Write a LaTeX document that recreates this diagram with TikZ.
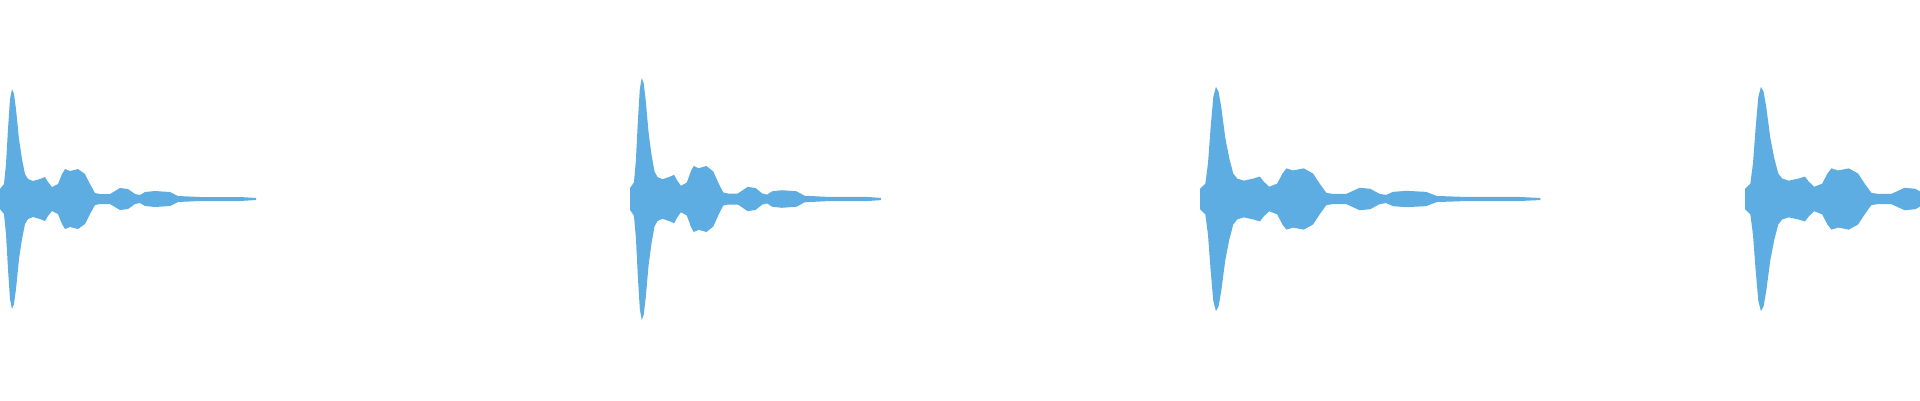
\documentclass[tikz,border=0pt]{standalone}
\definecolor{wave}{HTML}{5DADE2}
\newcommand{\burstenv}{(0,10) (4,15) (6,35) (8,70) (10,100) (12,110) (14,105) (16,90) (19,60) (22,40) (25,25) (28,20) (33,18) (40,20) (45,22) (48,17) (52,12) (58,15) (62,25) (65,30) (70,28) (78,30) (85,25) (90,15) (95,6) (100,5) (110,5) (115,8) (120,11) (128,10) (135,5) (140,4) (145,7) (155,8) (170,7) (178,3) (200,2) (240,2) (256,1)}
\newcommand{\burstenvneg}{(256,-1) (240,-2) (200,-2) (178,-3) (170,-7) (155,-8) (145,-7) (140,-4) (135,-5) (128,-10) (120,-11) (115,-8) (110,-5) (100,-5) (95,-6) (90,-15) (85,-25) (78,-30) (70,-28) (65,-30) (62,-25) (58,-15) (52,-12) (48,-17) (45,-22) (40,-20) (33,-18) (28,-20) (25,-25) (22,-40) (19,-60) (16,-90) (14,-105) (12,-110) (10,-100) (8,-70) (6,-35) (4,-15) (0,-10)}
\begin{document}
\begin{tikzpicture}[x=1pt,y=-1pt,wavefill/.style={fill=wave}]
\useasboundingbox (0,0) rectangle (1920,400);
\foreach \sx/\xs/\ys in {0/1/1, 630/0.98/1.1, 1200/1.33/1.02, 1745/1.33/1.02}{
  \begin{scope}[shift={(\sx,199)},xscale=\xs,yscale=\ys]
    \clip (0,-200) rectangle ({(1920-\sx)/\xs},200);
    \fill[wavefill] plot coordinates {\burstenv} -- plot coordinates {\burstenvneg} -- cycle;
  \end{scope}
}
\end{tikzpicture}
\end{document}
